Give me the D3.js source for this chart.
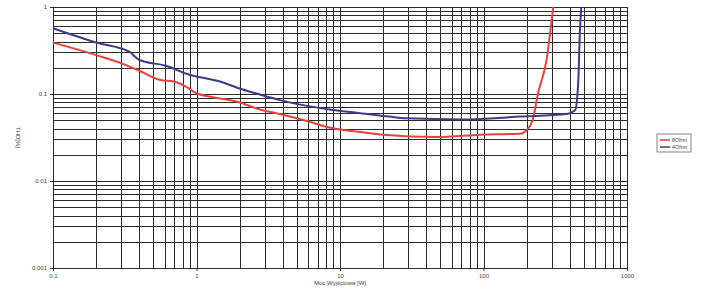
<!DOCTYPE html>
<html>
<head>
<meta charset="utf-8">
<script src="https://cdn.jsdelivr.net/npm/d3@7"></script>
<style>
  body { margin: 0; background: #fff; }
  text { font-family: "Liberation Sans", Arial, sans-serif; fill: #444; }
</style>
</head>
<body>
<svg id="thd" width="705" height="290"></svg>
<script>
const margin = { top: 7, right: 78, bottom: 22, left: 53 };

// output power [W] / THD [%]
const power8 = [0.1, 0.2, 0.3, 0.4, 0.56, 0.7, 0.86, 1.0, 1.3, 1.9, 2.8, 3.8, 5.9, 8, 13, 20, 47, 95, 180, 200, 220, 240, 275, 306];
const thd8 = [0.39, 0.28, 0.225, 0.185, 0.145, 0.139, 0.119, 0.102, 0.092, 0.082, 0.066, 0.059, 0.049, 0.042, 0.037, 0.034, 0.032, 0.034, 0.035, 0.0386, 0.05, 0.102, 0.246, 1.0];

const power4 = [0.1, 0.2, 0.34, 0.4, 0.62, 0.86, 1.46, 1.9, 2.8, 3.8, 5.9, 8.9, 13, 22, 29, 72, 180, 380, 435, 457, 469, 480];
const thd4 = [0.57, 0.39, 0.306, 0.246, 0.21, 0.17, 0.139, 0.119, 0.098, 0.085, 0.073, 0.0655, 0.061, 0.055, 0.0525, 0.051, 0.055, 0.059, 0.065, 0.133, 0.5, 1.0];

const xTicks = [0.1, 1, 10, 100, 1000];
const yTicks = [0.001, 0.01, 0.1, 1];

const series = [
  { name: "8Ohm", color: "#e8423c", x: power8, y: thd8 },
  { name: "4Ohm", color: "#3b3a8c", x: power4, y: thd4 },
];

const svg = d3.select("#thd");
const width = svg.attr("width") - margin.left - margin.right;
const height = svg.attr("height") - margin.top - margin.bottom;

const g = svg.append("g").attr("transform", `translate(${margin.left},${margin.top})`);

const xScale = d3.scaleLog().domain([0.1, 1000]).range([0, width]);
const yScale = d3.scaleLog().domain([0.001, 1]).range([height, 0]);

// log grid: every 1..9 step of each decade
const gridX = xScale.ticks();
const gridY = yScale.ticks();

g.append("g")
  .selectAll("line")
  .data(gridY)
  .join("line")
  .attr("x1", 0)
  .attr("x2", width)
  .attr("y1", (d) => Math.round(yScale(d)) + 0.5)
  .attr("y2", (d) => Math.round(yScale(d)) + 0.5)
  .attr("stroke", "#2a2a2a")
  .attr("stroke-width", 1);

g.append("g")
  .selectAll("line")
  .data(gridX)
  .join("line")
  .attr("y1", 0)
  .attr("y2", height)
  .attr("x1", (d) => Math.round(xScale(d)) + 0.5)
  .attr("x2", (d) => Math.round(xScale(d)) + 0.5)
  .attr("stroke", "#2a2a2a")
  .attr("stroke-width", 1);

const xAxis = g.append("g")
  .attr("transform", `translate(0,${height})`)
  .call(d3.axisBottom(xScale).tickValues(xTicks).tickFormat(d3.format("~g")).tickSize(3));
const yAxis = g.append("g")
  .call(d3.axisLeft(yScale).tickValues(yTicks).tickFormat(d3.format("~g")).tickSize(3));

[xAxis, yAxis].forEach((a) => {
  a.select(".domain").attr("stroke", "#2a2a2a");
  a.selectAll(".tick line").attr("stroke", "#2a2a2a");
  a.selectAll("text").attr("font-size", 6).attr("fill", "#555");
});

const line = d3.line()
  .x((d) => xScale(d[0]))
  .y((d) => yScale(d[1]))
  .curve(d3.curveMonotoneX);

g.append("g")
  .selectAll("path")
  .data(series)
  .join("path")
  .attr("d", (s) => line(s.x.map((v, i) => [v, s.y[i]])))
  .attr("fill", "none")
  .attr("stroke", (s) => s.color)
  .attr("stroke-width", 2);

svg.append("text")
  .attr("x", margin.left + width / 2)
  .attr("y", margin.top + height + 17)
  .attr("text-anchor", "middle")
  .attr("font-size", 6)
  .attr("fill", "#555")
  .text("Moc Wyjściowa [W]");

svg.append("text")
  .attr("transform", `translate(16,${margin.top + height / 2}) rotate(90)`)
  .attr("text-anchor", "middle")
  .attr("font-size", 6)
  .attr("fill", "#555")
  .text("THD[%]");

const legend = svg.append("g").attr("transform", "translate(657,134)");
legend.append("rect")
  .attr("width", 34)
  .attr("height", 18)
  .attr("fill", "#fff")
  .attr("stroke", "#666")
  .attr("stroke-width", 0.8);

const items = legend.selectAll("g.item")
  .data(series)
  .join("g")
  .attr("class", "item")
  .attr("transform", (d, i) => `translate(3,${6 + i * 7})`);
items.append("line")
  .attr("x1", 0)
  .attr("x2", 10)
  .attr("stroke", (d) => d.color)
  .attr("stroke-width", 1.5);
items.append("text")
  .attr("x", 12)
  .attr("y", 2)
  .attr("font-size", 5.5)
  .attr("fill", "#555")
  .text((d) => d.name);
</script>
</body>
</html>
